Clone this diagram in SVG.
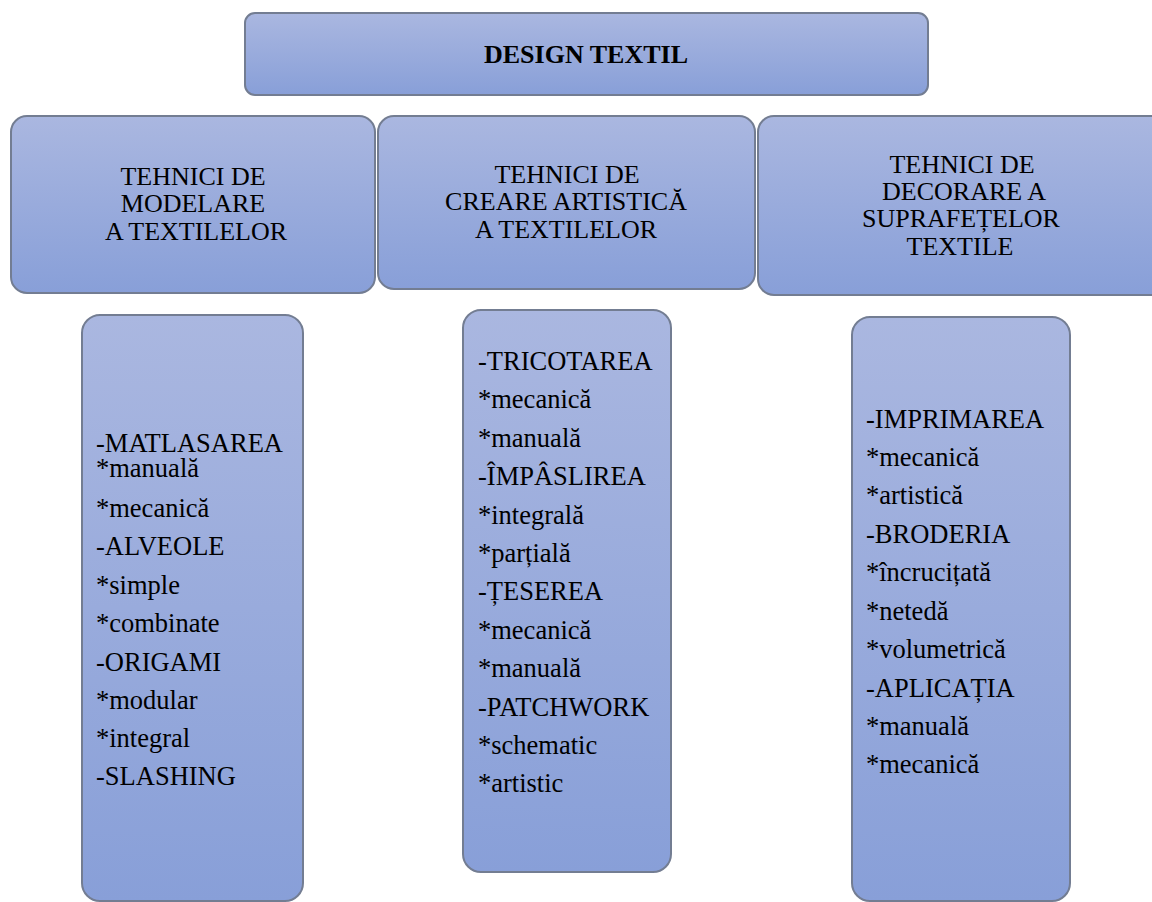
<svg xmlns="http://www.w3.org/2000/svg" width="1152" height="902" viewBox="0 0 1152 902">
<defs>
<linearGradient id="g" x1="0" y1="0" x2="0" y2="1">
<stop offset="0" stop-color="#aab7e0"/>
<stop offset="1" stop-color="#889fd8"/>
</linearGradient>
<style>
.box{fill:url(#g);stroke:#737d92;stroke-width:2}
.t{font-size:26.5px;fill:#000}
.h{font-size:26px;fill:#000;text-anchor:middle}
.title{font-size:26px;font-weight:bold;fill:#000;text-anchor:middle}
</style>
</defs>
<rect width="1152" height="902" fill="#fff"/>
<g id="connectors"></g>
<g font-family="Liberation Serif, Times New Roman, serif">
<g id="top">
<rect class="box" x="245" y="13" width="683" height="82" rx="10"/>
<text class="title" x="586" y="63">DESIGN TEXTIL</text>
</g>
<g id="h1">
<rect class="box" x="11" y="116" width="364" height="177" rx="16"/>
<text class="h" x="193" y="185">TEHNICI DE</text>
<text class="h" x="193" y="212">MODELARE</text>
<text class="h" x="196" y="240">A TEXTILELOR</text>
</g>
<g id="h2">
<rect class="box" x="378" y="116" width="377" height="173" rx="16"/>
<text class="h" x="567" y="183">TEHNICI DE</text>
<text class="h" x="566" y="210">CREARE ARTISTICĂ</text>
<text class="h" x="566" y="238">A TEXTILELOR</text>
</g>
<g id="h3">
<rect class="box" x="758" y="116" width="410" height="179" rx="16"/>
<text class="h" x="962" y="173">TEHNICI DE</text>
<text class="h" x="964" y="200">DECORARE A</text>
<text class="h" x="961" y="227">SUPRAFEȚELOR</text>
<text class="h" x="960" y="255">TEXTILE</text>
</g>
<g id="l1">
<rect class="box" x="82" y="315" width="221" height="586" rx="18"/>
<text class="t" x="96" y="452">-MATLASAREA</text>
<text class="t" x="96" y="477">*manuală</text>
<text class="t" x="96" y="517">*mecanică</text>
<text class="t" x="96" y="555">-ALVEOLE</text>
<text class="t" x="96" y="594">*simple</text>
<text class="t" x="96" y="632">*combinate</text>
<text class="t" x="96" y="671">-ORIGAMI</text>
<text class="t" x="96" y="709">*modular</text>
<text class="t" x="96" y="747">*integral</text>
<text class="t" x="96" y="785">-SLASHING</text>
</g>
<g id="l2">
<rect class="box" x="463" y="310" width="208" height="562" rx="18"/>
<text class="t" x="478" y="370">-TRICOTAREA</text>
<text class="t" x="478" y="408">*mecanică</text>
<text class="t" x="478" y="447">*manuală</text>
<text class="t" x="478" y="485">-ÎMPÂSLIREA</text>
<text class="t" x="478" y="524">*integrală</text>
<text class="t" x="478" y="562">*parțială</text>
<text class="t" x="478" y="600">-ȚESEREA</text>
<text class="t" x="478" y="639">*mecanică</text>
<text class="t" x="478" y="677">*manuală</text>
<text class="t" x="478" y="716">-PATCHWORK</text>
<text class="t" x="478" y="754">*schematic</text>
<text class="t" x="478" y="792">*artistic</text>
</g>
<g id="l3">
<rect class="box" x="852" y="317" width="218" height="584" rx="18"/>
<text class="t" x="866" y="428">-IMPRIMAREA</text>
<text class="t" x="866" y="466">*mecanică</text>
<text class="t" x="866" y="504">*artistică</text>
<text class="t" x="866" y="543">-BRODERIA</text>
<text class="t" x="866" y="581">*încrucițată</text>
<text class="t" x="866" y="620">*netedă</text>
<text class="t" x="866" y="658">*volumetrică</text>
<text class="t" x="866" y="697">-APLICAȚIA</text>
<text class="t" x="866" y="735">*manuală</text>
<text class="t" x="866" y="773">*mecanică</text>
</g>
</g>
</svg>
